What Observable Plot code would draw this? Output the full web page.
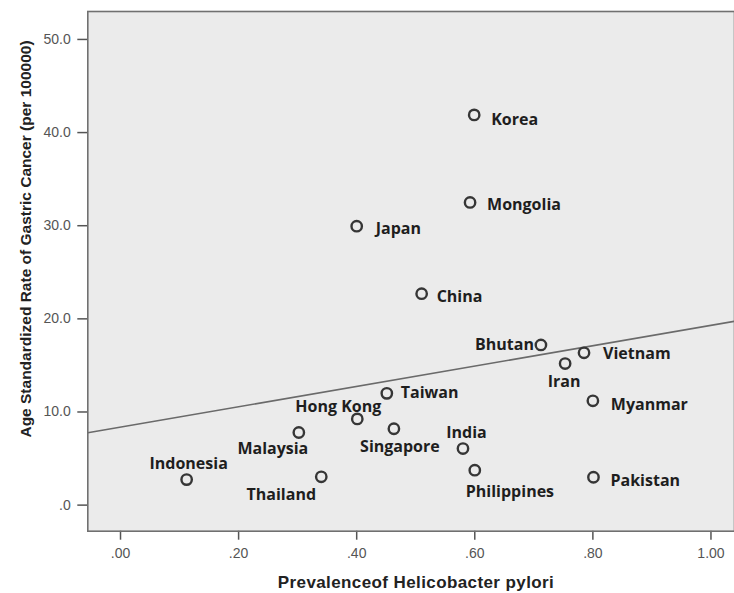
<!DOCTYPE html>
<html>
<head>
<meta charset="utf-8">
<script src="https://cdn.jsdelivr.net/npm/d3@7"></script>
<script src="https://cdn.jsdelivr.net/npm/@observablehq/plot@0.6"></script>
<style>
  html, body { margin: 0; padding: 0; background: #ffffff; }
  #chart svg { display: block; }
</style>
</head>
<body>
<div id="chart"></div>
<script>
// ---- data ----
const countries = ["Korea", "Mongolia", "Japan", "China", "Bhutan", "Vietnam", "Iran", "Taiwan", "Myanmar",
  "Hong Kong", "Malaysia", "Singapore", "India", "Philippines", "Indonesia", "Thailand", "Pakistan"];
const prevalence = [0.599, 0.592, 0.400, 0.510, 0.712, 0.785, 0.753, 0.451, 0.800,
  0.401, 0.302, 0.463, 0.580, 0.600, 0.112, 0.340, 0.801];
const asr = [41.9, 32.5, 29.95, 22.7, 17.2, 16.35, 15.2, 12.0, 11.2,
  9.26, 7.8, 8.2, 6.07, 3.75, 2.74, 3.04, 2.99];
const xTicks = [0, 0.2, 0.4, 0.6, 0.8, 1.0];
const yTicks = [0, 10, 20, 30, 40, 50];
const xTitle = "Prevalenceof Helicobacter pylori";
const yTitle = "Age Standardized Rate of Gastric Cancer (per 100000)";

// ---- label layout (offsets from each point, in pixels) ----
const labelLayout = {
  "Korea":       {anchor: "start",  dx: 17,  dy: 5},
  "Mongolia":    {anchor: "start",  dx: 17,  dy: 2.5},
  "Japan":       {anchor: "start",  dx: 19,  dy: 2.5},
  "China":       {anchor: "start",  dx: 15,  dy: 3},
  "Bhutan":      {anchor: "end",    dx: -7,  dy: 0},
  "Vietnam":     {anchor: "start",  dx: 19,  dy: 1},
  "Iran":        {anchor: "middle", dx: -1,  dy: 18},
  "Taiwan":      {anchor: "start",  dx: 14,  dy: 0},
  "Myanmar":     {anchor: "start",  dx: 18,  dy: 4},
  "Hong Kong":   {anchor: "middle", dx: -19, dy: -12},
  "Malaysia":    {anchor: "middle", dx: -26, dy: 16.5},
  "Singapore":   {anchor: "middle", dx: 6,   dy: 18},
  "India":       {anchor: "middle", dx: 3.5, dy: -16},
  "Philippines": {anchor: "start",  dx: -9,  dy: 22},
  "Indonesia":   {anchor: "middle", dx: 2,   dy: -15.5},
  "Thailand":    {anchor: "middle", dx: -40, dy: 18},
  "Pakistan":    {anchor: "start",  dx: 17,  dy: 4}
};

const data = countries.map((c, i) => ({country: c, x: prevalence[i], y: asr[i]}));

// ordinary least squares fit computed from the data
const mx = d3.mean(prevalence), my = d3.mean(asr);
const slope = d3.sum(prevalence, (v, i) => (v - mx) * (asr[i] - my)) / d3.sum(prevalence, v => (v - mx) ** 2);
const intercept = my - slope * mx;

const W = 734, H = 593;
const xDomain = [-0.0554, 1.0424];
const yDomain = [-2.8, 53.0];
const fit = xDomain.map(x => ({x, y: intercept + slope * x}));

const labelFont = "'Open Sans', 'Noto Sans', sans-serif";
const labelMarks = data.map(d => {
  const L = labelLayout[d.country];
  return Plot.text([d], {
    x: "x", y: "y", text: "country",
    dx: L.dx, dy: L.dy, textAnchor: L.anchor,
    fontFamily: labelFont, fontWeight: 700, fontSize: 16, fill: "#1e1e1e"
  });
});

const chart = Plot.plot({
  width: W,
  height: H,
  marginLeft: 87.3,
  marginRight: 0,
  marginTop: 11,
  marginBottom: 62.3,
  style: {fontFamily: "'Liberation Sans', Arial, sans-serif", fontSize: "14px", background: "#ffffff"},
  x: {domain: xDomain, range: [87.3, 735.5]},
  y: {domain: yDomain},
  marks: [
    Plot.frame({fill: "#ebebeb", stroke: "none"}),
    Plot.line(fit, {x: "x", y: "y", stroke: "#6a6a6a", strokeWidth: 1.6, clip: true}),
    Plot.dot(data, {x: "x", y: "y", r: 5.2, stroke: "#363636", strokeWidth: 2.4, fill: "none"}),
    ...labelMarks,
    Plot.axisX({
      ticks: xTicks,
      tickFormat: d => d.toFixed(2).replace(/^0/, ""),
      tickSize: 9, tickPadding: 8, label: null,
      color: "#555", fontSize: 14, strokeWidth: 1.5
    }),
    Plot.axisY({
      ticks: yTicks,
      tickFormat: d => d.toFixed(1).replace(/^0/, ""),
      tickSize: 10, tickPadding: 7, label: null,
      color: "#555", fontSize: 14, strokeWidth: 1.5
    }),
    Plot.frame({stroke: "#707070", strokeWidth: 1.6})
  ]
});

document.getElementById("chart").appendChild(chart);

// axis titles
const svg = d3.select(chart);
svg.append("text")
  .attr("x", 416).attr("y", 582)
  .attr("text-anchor", "middle").attr("dominant-baseline", "central")
  .attr("font-family", "'Liberation Sans', Arial, sans-serif")
  .attr("font-weight", 700).attr("font-size", 17).attr("letter-spacing", "0.4px")
  .attr("fill", "#222")
  .text(xTitle);
svg.append("text")
  .attr("transform", "translate(25,239) rotate(-90)")
  .attr("text-anchor", "middle").attr("dominant-baseline", "central")
  .attr("font-family", "'Liberation Sans', Arial, sans-serif")
  .attr("font-weight", 700).attr("font-size", 15.5)
  .attr("fill", "#222")
  .text(yTitle);
</script>
</body>
</html>
